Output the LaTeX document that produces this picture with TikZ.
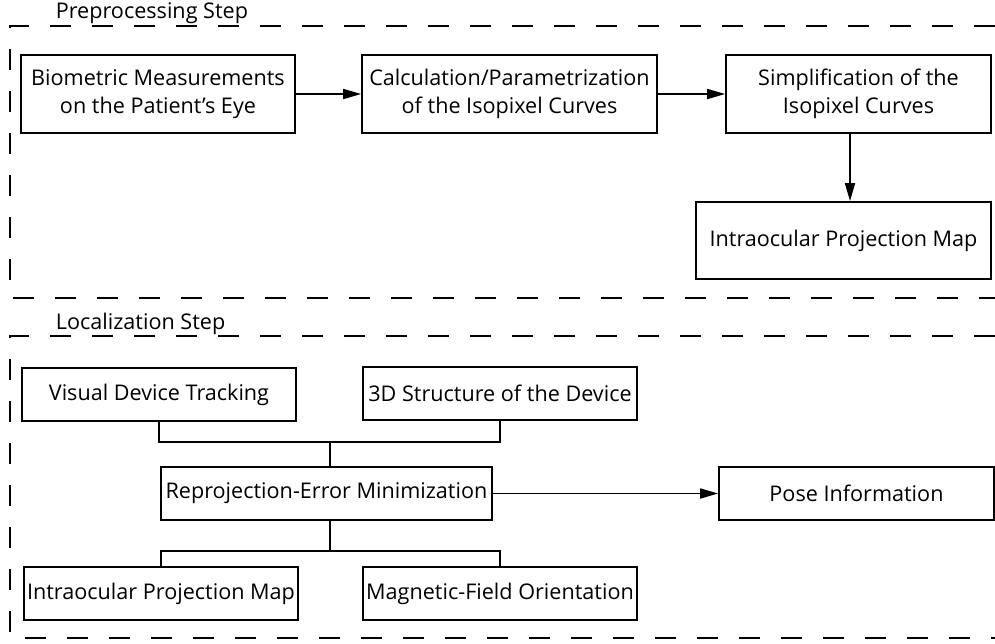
\documentclass[tikz,border=0pt]{standalone}
\usepackage{fontspec}
\setmainfont{Open Sans}
\usetikzlibrary{arrows.meta}

\begin{document}
\begin{tikzpicture}
[->,>={Triangle[length=9pt,width=5pt]},x=0.5pt,y=-0.5pt,line width=0.85pt,
 font=\fontsize{10.8}{14}\selectfont]
  \tikzstyle{block}=[draw=black,rectangle,align=center,inner sep=1pt,minimum width=137pt]
  \tikzstyle{tall}=[block,minimum height=39pt]
  \tikzstyle{flat}=[block,minimum height=26.5pt]
  \tikzstyle{frame}=[-,dash pattern=on 10.5pt off 10.5pt]
  \useasboundingbox (0,0) rectangle (995,643);

  % preprocessing
  \node[tall]                       (bio)  at (158,94)     {Biometric Measurements\\on the Patient's Eye};
  \node[tall,minimum width=147.5pt] (calc) at (509.5,94)   {Calculation/Parametrization\\of the Isopixel Curves};
  \node[tall,minimum width=132.5pt] (simp) at (858.5,94)   {Simplification of the\\Isopixel Curves};
  \node[tall,minimum width=147.5pt,minimum height=38.5pt] (ipmA) at (843.5,240.5) {Intraocular Projection Map};

  % localization
  \node[flat]                       (vdt)  at (159,394.5)  {Visual Device Tracking};
  \node[flat]                       (str)  at (500,393.5)  {3D Structure of the Device};
  \node[flat,minimum width=165.5pt] (rep)  at (326.5,493.5){Reprojection-Error Minimization};
  \node[flat,minimum width=137.5pt] (pose) at (856.5,493.5){Pose Information};
  \node[flat]                       (ipmB) at (161,593.5)  {Intraocular Projection Map};
  \node[flat]                       (mag)  at (500,593.5)  {Magnetic-Field Orientation};

  \coordinate (drop)  at (850,0);
  \coordinate (merge) at (330,442);
  \coordinate (split) at (330,551);

  \path (bio) edge (calc)
        (calc) edge (simp)
        (simp.south -| drop) edge (ipmA.north -| drop)
        (rep) edge (pose);
  \draw[-] (vdt) |- (merge) -| (str);
  \draw[-] (merge) -- (merge |- rep.north);
  \draw[-] (rep.south -| split) -- (split);
  \draw[-] (ipmB) |- (split) -| (mag);

  % dashed frames
  \draw[frame] (995,26) -- (10,26) -- (10,298) -- (995,298);
  \draw[frame] (995,336) -- (10,336) -- (10,638) -- (995,638);
  \node[anchor=base west,inner sep=0] (pre) at (55,18)  {Preprocessing Step};
  \node[anchor=base west,inner sep=0] (loc) at (55,329) {Localization Step};
\end{tikzpicture}
\end{document}
